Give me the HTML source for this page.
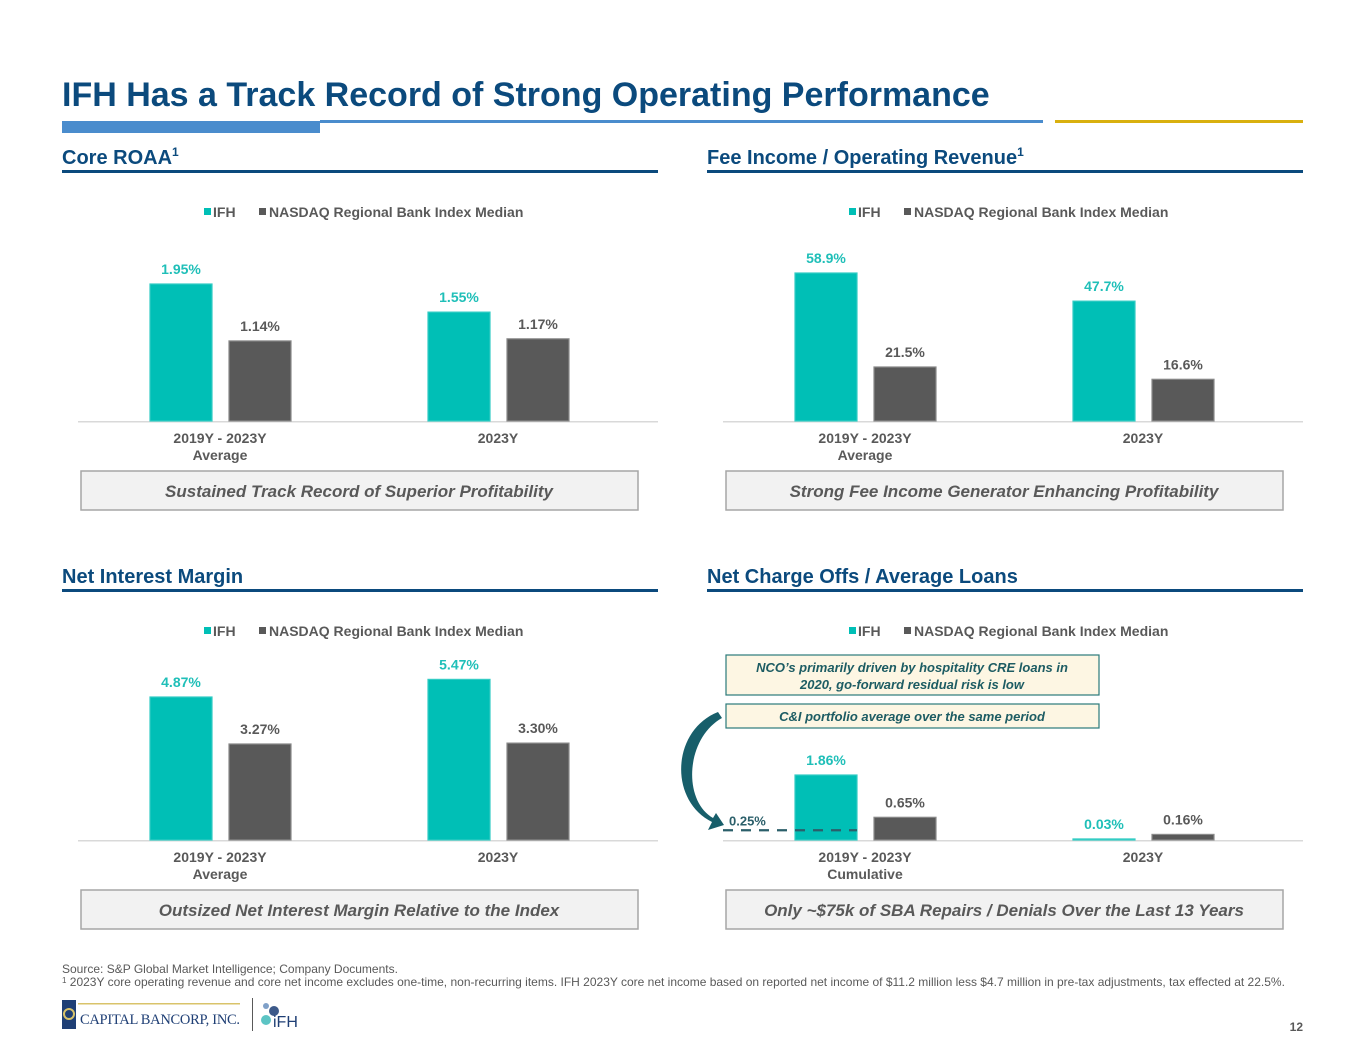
<!DOCTYPE html>
<html><head><meta charset="utf-8"><style>
body{margin:0;background:#fff;}
svg{display:block;font-family:"Liberation Sans",Arial,sans-serif;}
</style></head><body>
<svg id="s" width="1365" height="1055" viewBox="0 0 1365 1055" xmlns="http://www.w3.org/2000/svg">
<text x="62" y="106" font-size="34" font-weight="bold" fill="#0b4a7d">IFH Has a Track Record of Strong Operating Performance</text>
<rect x="62" y="121" width="258" height="12" fill="#4a8ccd"/>
<rect x="320" y="120" width="723" height="3" fill="#4a8ccd"/>
<rect x="1055" y="120" width="248" height="3" fill="#d9b00f"/>
<g id="panels"></g>
<text x="62" y="973" font-size="12" fill="#595959">Source: S&amp;P Global Market Intelligence; Company Documents.</text>
<text x="62" y="986" font-size="12" fill="#595959"><tspan font-size="8" dy="-3">1</tspan><tspan dy="3"> 2023Y core operating revenue and core net income excludes one-time, non-recurring items. IFH 2023Y core net income based on reported net income of $11.2 million less $4.7 million in pre-tax adjustments, tax effected at 22.5%.</tspan></text>
<g>
<rect x="62" y="1000" width="14" height="29" fill="#1f3f75"/>
<circle cx="69" cy="1014" r="5" fill="none" stroke="#d9c36a" stroke-width="2"/>
<rect x="78" y="1003" width="162" height="1.5" fill="#d9c36a"/>
<text x="80" y="1024" font-family="Liberation Serif,serif" font-size="14.5" fill="#1f3f75" textLength="160">CAPITAL BANCORP, INC.</text>
</g>
<rect x="252" y="998" width="1" height="33" fill="#595959"/>
<g>
<circle cx="266" cy="1006" r="3" fill="#7fa0c8"/><circle cx="274" cy="1011" r="5" fill="#3d5a8a"/><circle cx="266" cy="1020" r="5" fill="#5cc4c4"/>
<text x="273" y="1027" font-size="16" fill="#1f3f75">iFH</text>
</g>
<text x="1303" y="1031" font-size="12" font-weight="bold" fill="#595959" text-anchor="end">12</text>
</svg>
<script>
const cats1 = ["2019Y - 2023Y|Average", "2023Y"];
const cats4 = ["2019Y - 2023Y|Cumulative", "2023Y"];
const roaaIFH = [1.95, 1.55];
const roaaIdx = [1.14, 1.17];
const feeIFH = [58.9, 47.7];
const feeIdx = [21.5, 16.6];
const nimIFH = [4.87, 5.47];
const nimIdx = [3.27, 3.30];
const ncoIFH = [1.86, 0.03];
const ncoIdx = [0.65, 0.16];
const ciAvg = [0.25];

const NS = "http://www.w3.org/2000/svg";
const root = document.getElementById('panels');
function mk(tag, attrs, parent, txt) {
  const e = document.createElementNS(NS, tag);
  for (const k in attrs) e.setAttribute(k, attrs[k]);
  if (txt !== undefined) e.textContent = txt;
  (parent || root).appendChild(e);
  return e;
}
function panel(ox, oy, title, sup, ifh, idx, cats, maxV, maxH, caption, key) {
  const g = mk('g', {});
  
  
  const t = mk('text', {x: ox, y: oy + 164, 'font-size': 20, 'font-weight': 'bold', fill: '#0b4a7d'}, g, title);
  
  
  if (sup) { mk('tspan', {'font-size': 12, dy: -8}, t, '1'); }
  const ul = mk('rect', {x: ox, y: oy + 170, width: 596, height: 3, fill: '#0b4a7d'}, g);
  
  
  const lg = mk('g', {}, g);
  
  
  mk('rect', {x: ox + 142, y: oy + 208, width: 7, height: 7, fill: '#00bfb6'}, lg);
  mk('text', {x: ox + 151, y: oy + 217, 'font-size': 14, 'font-weight': 'bold', fill: '#595959'}, lg, 'IFH');
  mk('rect', {x: ox + 197, y: oy + 208, width: 7, height: 7, fill: '#595959'}, lg);
  mk('text', {x: ox + 207, y: oy + 217, 'font-size': 14, 'font-weight': 'bold', fill: '#595959'}, lg, 'NASDAQ Regional Bank Index Median');
  const base = oy + 421;
  const y = v => base - v / maxV * maxH;
  const groupX = [ox + 88, ox + 366];
  const ax = mk('rect', {x: ox + 16, y: base, width: 580, height: 1.5, fill: '#d9d9d9'}, g);
  
  
  const fmt = (v, d) => v.toFixed(d) + '%';
  const dec = maxV > 10 ? 1 : 2;
  for (let i = 0; i < cats.length; i++) {
    const gx = groupX[i];
    [[ifh[i], '#00bfb6', '#1fbfb8', 0, 'ifh'], [idx[i], '#595959', '#595959', 79, 'index']].forEach(([v, c, tc, dx, nm]) => {
      const top = y(v);
      const h = Math.max(base - top, 1);
      const b = mk('rect', {x: gx + dx, y: base - h, width: 62, height: h, fill: c, stroke: c === '#00bfb6' ? '#33ccc4' : '#8a8a8a', 'stroke-width': 1.2}, g);
      
      
      const lb = mk('text', {x: gx + dx + 31, y: base - h - 10, 'font-size': 14, 'font-weight': 'bold', fill: tc, 'text-anchor': 'middle'}, g, fmt(v, dec));
      
      
    });
    const parts = cats[i].split('|');
    parts.forEach((p, j) => {
      const ct = mk('text', {x: gx + 70, y: base + 22 + j * 17, 'font-size': 14, 'font-weight': 'bold', fill: '#595959', 'text-anchor': 'middle'}, g, p);
      
      
    });
  }
  const cb = mk('rect', {x: ox + 19, y: oy + 471, width: 557, height: 39, fill: '#f2f2f2', stroke: '#a6a6a6', 'stroke-width': 1.5}, g);
  
  
  const ctx = mk('text', {x: ox + 297, y: oy + 497, 'font-size': 17, 'font-weight': 'bold', 'font-style': 'italic', fill: '#595959', 'text-anchor': 'middle'}, g, caption);
  
  
  return {g, y, base, groupX};
}
panel(62, 0, 'Core ROAA', true, roaaIFH, roaaIdx, cats1, 1.95, 137, 'Sustained Track Record of Superior Profitability', 'roaa');
panel(707, 0, 'Fee Income / Operating Revenue', true, feeIFH, feeIdx, cats1, 58.9, 148, 'Strong Fee Income Generator Enhancing Profitability', 'fee');
panel(62, 419, 'Net Interest Margin', false, nimIFH, nimIdx, cats1, 4.87, 143, 'Outsized Net Interest Margin Relative to the Index', 'nim');
const p4 = panel(707, 419, 'Net Charge Offs / Average Loans', false, ncoIFH, ncoIdx, cats4, 1.86, 65, 'Only ~$75k of SBA Repairs / Denials Over the Last 13 Years', 'nco');

const b1 = mk('rect', {x: 726, y: 655, width: 373, height: 40, fill: '#fdf6e3', stroke: '#2b7a7a', 'stroke-width': 1.2});


const t1 = mk('text', {x: 912, y: 672, 'font-size': 13, 'font-weight': 'bold', 'font-style': 'italic', fill: '#1d5c63', 'text-anchor': 'middle'}, root, 'NCO’s primarily driven by hospitality CRE loans in');


const t1b = mk('text', {x: 912, y: 689, 'font-size': 13, 'font-weight': 'bold', 'font-style': 'italic', fill: '#1d5c63', 'text-anchor': 'middle'}, root, '2020, go-forward residual risk is low');


const b2 = mk('rect', {x: 726, y: 704, width: 373, height: 24, fill: '#fdf6e3', stroke: '#2b7a7a', 'stroke-width': 1.2});


const t2 = mk('text', {x: 912, y: 721, 'font-size': 13, 'font-weight': 'bold', 'font-style': 'italic', fill: '#1d5c63', 'text-anchor': 'middle'}, root, 'C&I portfolio average over the same period');


const arr = mk('path', {d: 'M718 712 C 672 730, 668 800, 712 822 L 708 830 L 724 825 L 716 813 L 713 818 C 682 800, 686 738, 722 718 Z', fill: '#175e6a'});


const dy = p4.y(ciAvg[0]);
const dl = mk('line', {x1: 723, x2: 857, y1: dy - 1, y2: dy - 1, stroke: '#2b5f6a', 'stroke-width': 2.2, 'stroke-dasharray': '10 8'});


const dt = mk('text', {x: 729, y: dy - 6, 'font-size': 13, 'font-weight': 'bold', fill: '#2b5f6a'}, root, ciAvg[0].toFixed(2) + '%');


</script>
</body></html>
